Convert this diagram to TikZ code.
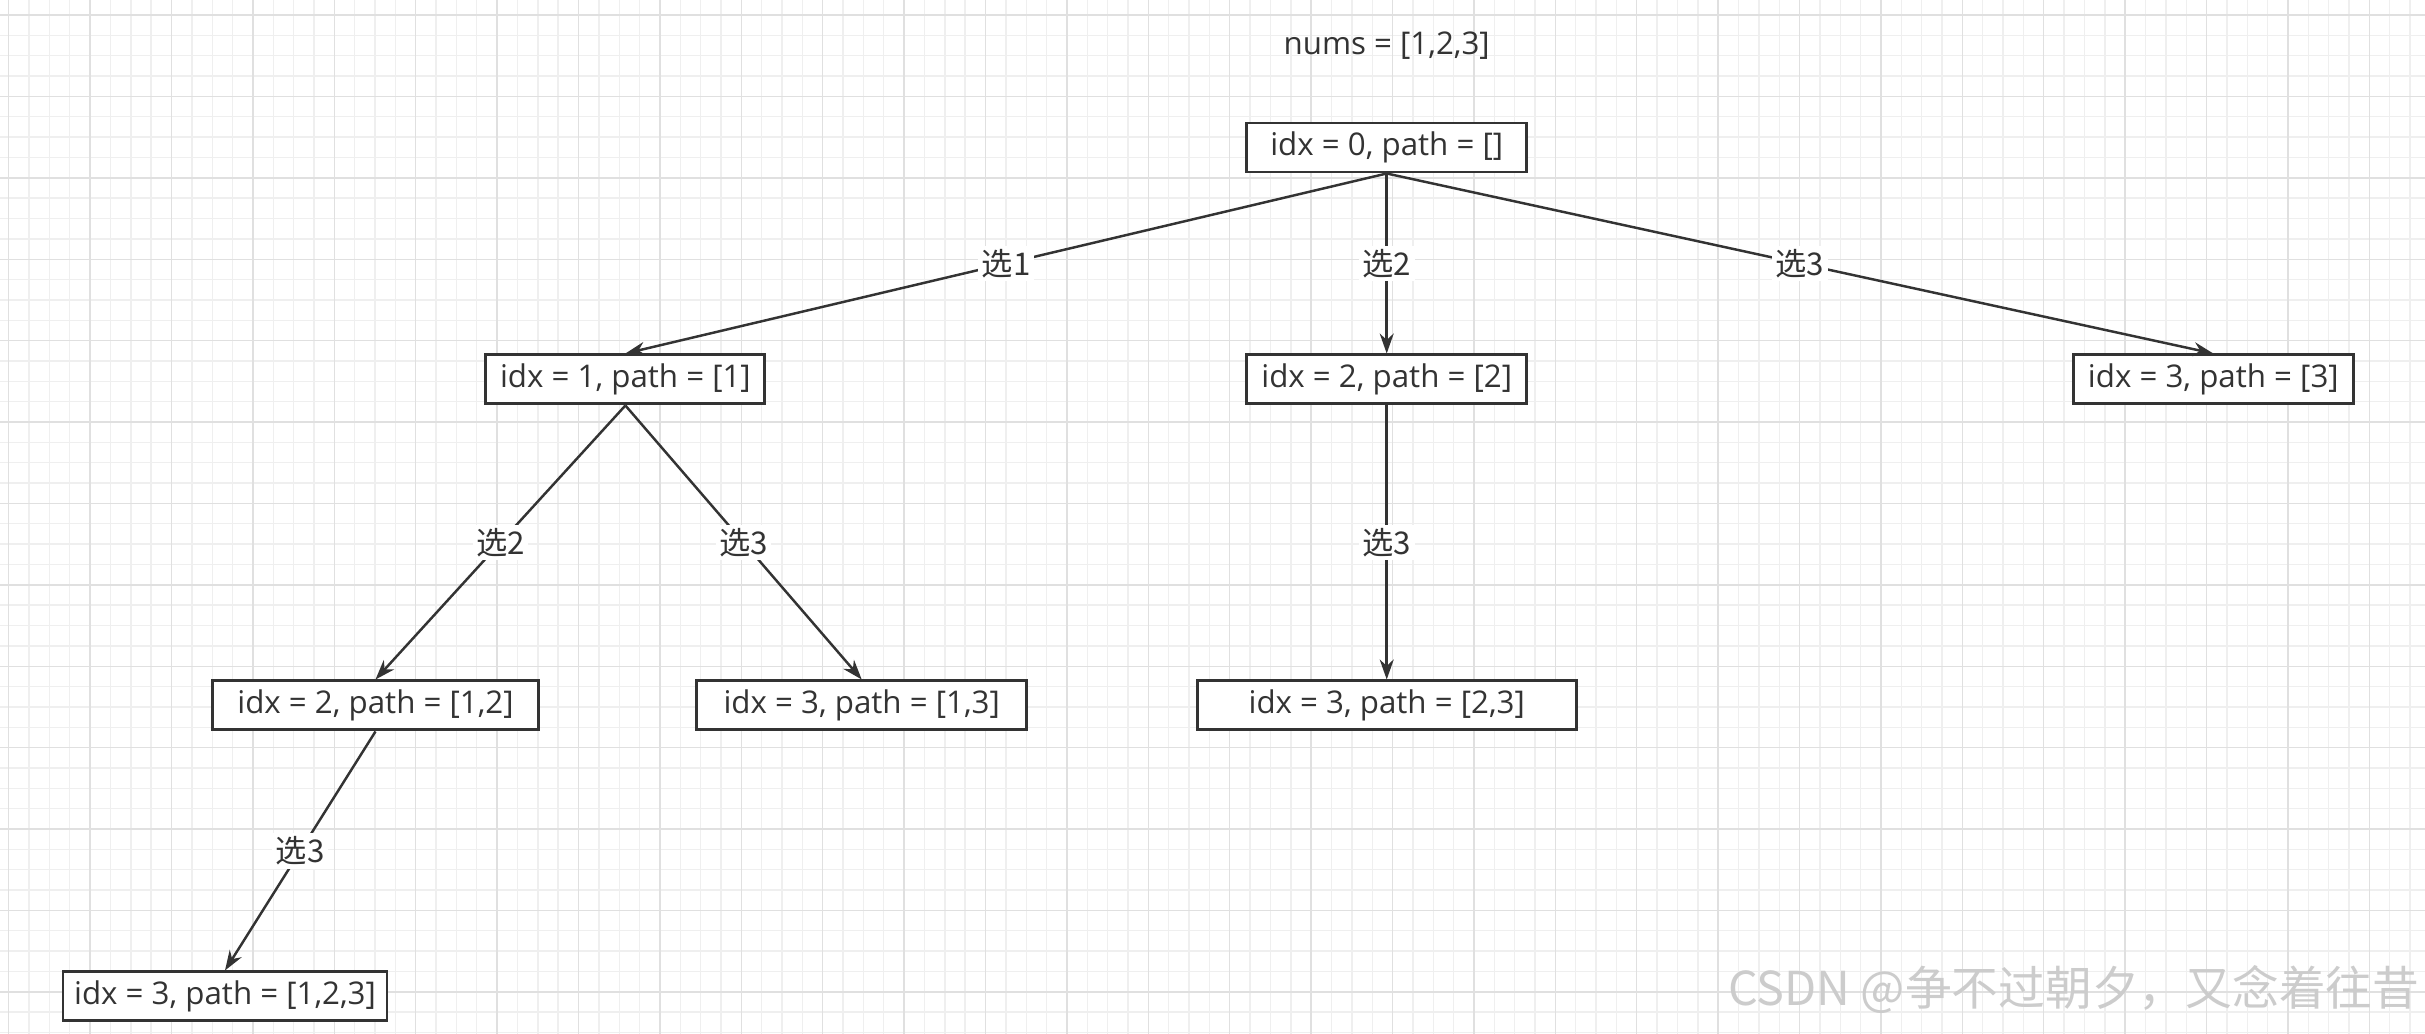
\documentclass[tikz,border=0pt]{standalone}
\usepackage{fontspec}
\setmainfont{Open Sans}
\newfontfamily\cjk{Noto Sans CJK SC}
\usetikzlibrary{positioning,arrows.meta}

\definecolor{linegray}{HTML}{333333}
\definecolor{gridminor}{HTML}{EFEFEF}
\definecolor{gridmajor}{HTML}{E0E0E0}
\definecolor{markgray}{HTML}{CCCCCC}

\begin{document}
\begin{tikzpicture}[node distance=1.8cm]

% Define styles
\tikzstyle{state} = [rectangle, draw=linegray, fill=white, line width=0.85pt, minimum height=0.49cm, inner xsep=2pt, inner ysep=1pt, text=linegray, font=\fontsize{8.9}{10}\selectfont]
\tikzstyle{choice} = [fill=white, inner sep=1pt, text=linegray, font=\cjk\fontsize{8.9}{10}\selectfont]
\tikzstyle{arrow} = [line width=0.7pt, draw=linegray, ->, >={Stealth[length=2mm, width=1.4mm]}]

% Canvas and grid
\useasboundingbox (0,0) rectangle (24.25,-10.34);
\fill[white] (0,0) rectangle (24.25,-10.34);
\foreach \k in {0,...,118} \draw[gridminor, line width=0.4pt] ({0.087+0.2035*\k},0) -- ({0.087+0.2035*\k},-10.34);
\foreach \k in {0,...,50} \draw[gridminor, line width=0.4pt] (0,{-0.15-0.2035*\k}) -- (24.25,{-0.15-0.2035*\k});
\foreach \k in {0,4,...,116} \draw[gridmajor, line width=0.4pt] ({0.087+0.2035*\k},0) -- ({0.087+0.2035*\k},-10.34);
\foreach \k in {0,4,...,48} \draw[gridmajor, line width=0.4pt] (0,{-0.15-0.2035*\k}) -- (24.25,{-0.15-0.2035*\k});

% Root
\node (root) [state, minimum width=2.8cm] at (13.867,-1.475) {idx = 0, path = []};
\node (title) [above=0.5cm of root, text=linegray, font=\fontsize{8.9}{10}\selectfont] {nums = [1,2,3]};

% First level
\node (n1) [state, minimum width=2.79cm, below=1.8cm of root, xshift=-7.613cm] {idx = 1, path = [1]};
\node (n2) [state, minimum width=2.8cm, below=1.8cm of root] {idx = 2, path = [2]};
\node (n3) [state, minimum width=2.8cm, below=1.8cm of root, xshift=8.266cm] {idx = 3, path = [3]};

% Second level
\node (n12) [state, minimum width=3.26cm, below=2.74cm of n1, xshift=-2.499cm] {idx = 2, path = [1,2]};
\node (n13) [state, minimum width=3.3cm, below=2.74cm of n1, xshift=2.363cm] {idx = 3, path = [1,3]};
\node (n23) [state, minimum width=3.79cm, below=2.74cm of n2] {idx = 3, path = [2,3]};

% Third level
\node (n123) [state, minimum width=3.24cm, below=2.39cm of n12, xshift=-1.505cm] {idx = 3, path = [1,2,3]};

% Choices
\draw [arrow] (root.south) -- node[choice] {选1} (n1.north);
\draw [arrow] (root.south) -- node[choice] {选2} (n2.north);
\draw [arrow] (root.south) -- node[choice] {选3} (n3.north);
\draw [arrow] (n1.south) -- node[choice] {选2} (n12.north);
\draw [arrow] (n1.south) -- node[choice] {选3} (n13.north);
\draw [arrow] (n2.south) -- node[choice] {选3} (n23.north);
\draw [arrow] (n12.south) -- node[choice] {选3} (n123.north);

% Watermark
\node (mark) [anchor=east, inner sep=0pt, text=markgray, font=\cjk\fontsize{13.3}{15}\selectfont] at (24.2,-9.9) {CSDN @争不过朝夕，又念着往昔};

\end{tikzpicture}
\end{document}
